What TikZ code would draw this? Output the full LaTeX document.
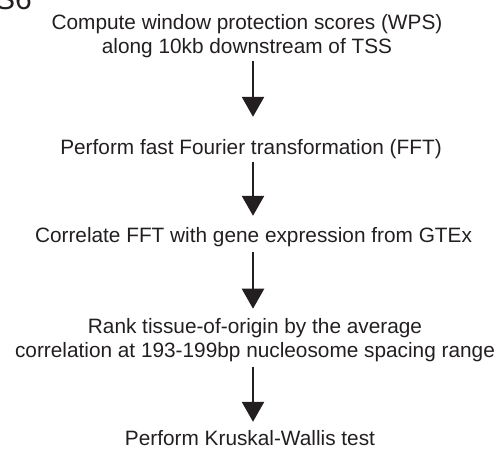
\documentclass[tikz,border=0pt]{standalone}
\usepackage{fontspec}
\setmainfont{Liberation Sans}
\usetikzlibrary{arrows.meta}
\definecolor{ink}{HTML}{231F20}
\tikzset{
  step text/.style={inner sep=0pt, align=center, text=ink,
    font=\fontsize{20.8pt}{24pt}\selectfont},
  one line/.style={step text, text height=15pt, text depth=5pt, anchor=base},
  flow arrow/.style={draw=ink, line width=2.5pt,
    -{Triangle[width=22pt,length=20pt]}}
}
\begin{document}
\begin{tikzpicture}[x=1pt,y=-1pt]
\useasboundingbox (0,0) rectangle (499,452);
\coordinate (axis) at (253,0);
\node[anchor=base west, text=ink, inner sep=0pt, font=\fontsize{30pt}{30pt}\selectfont] (fig) at (-5,10) {S6};
\node[step text, anchor=base] (n1) at (247,54) {Compute window protection scores (WPS)\\along 10kb downstream of TSS};
\node[one line] (n2) at (251,154) {Perform fast Fourier transformation (FFT)};
\node[one line] (n3) at (253.5,242) {Correlate FFT with gene expression from GTEx};
\node[step text, anchor=base] (n4) at (255,357) {Rank tissue-of-origin by the average\\correlation at 193-199bp nucleosome spacing range};
\node[one line] (n5) at (250,445) {Perform Kruskal-Wallis test};
\draw[flow arrow, shorten <=2pt, shorten >=22pt] (n1.south -| axis) -- (n2.north -| axis);
\draw[flow arrow, shorten <=3pt, shorten >=11pt] (n2.south -| axis) -- (n3.north -| axis);
\draw[flow arrow, shorten <=5pt, shorten >=9pt] (n3.south -| axis) -- (n4.north -| axis);
\draw[flow arrow, shorten <=5pt, shorten >=8pt] (n4.south -| axis) -- (n5.north -| axis);
\end{tikzpicture}
\end{document}
